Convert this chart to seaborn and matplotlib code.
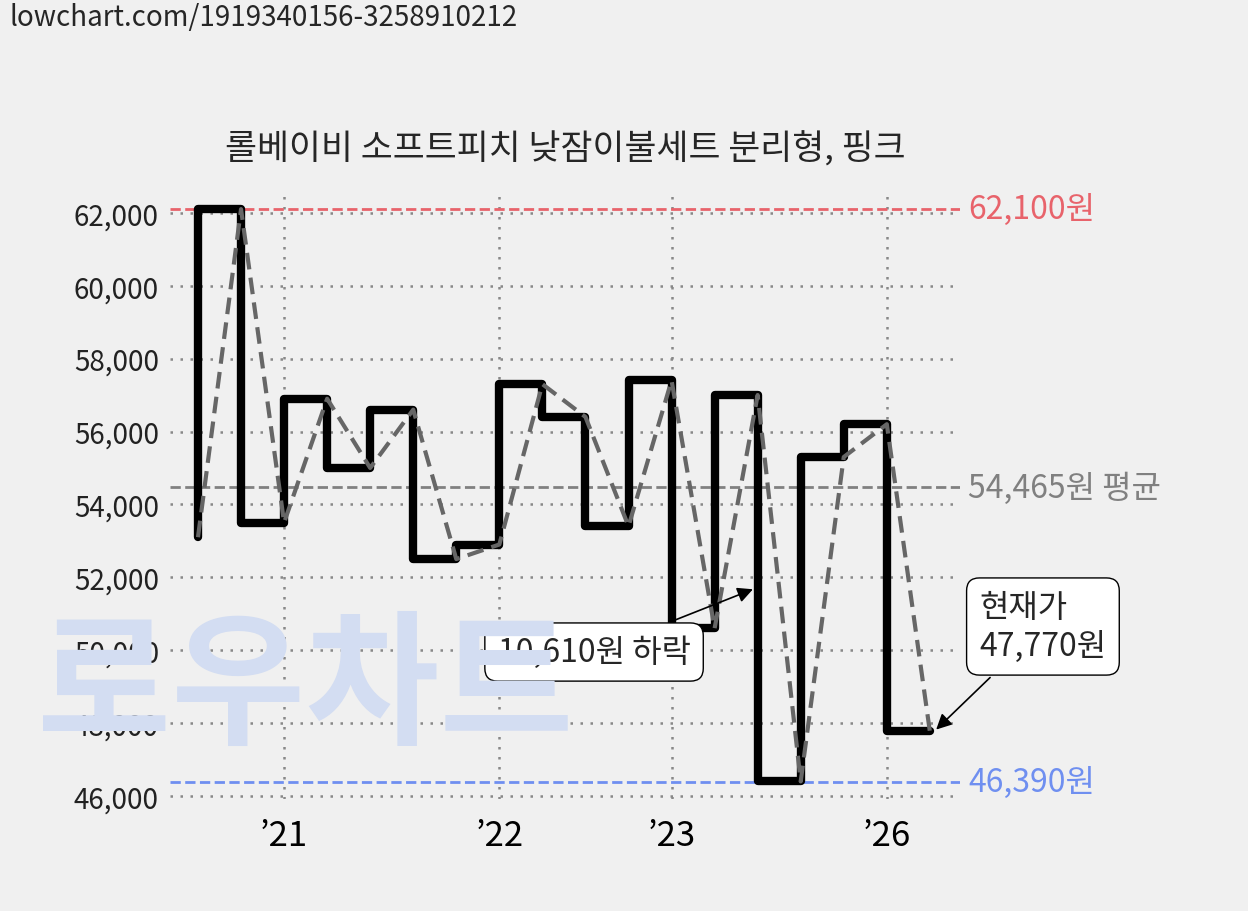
import matplotlib
matplotlib.use("Agg")
import matplotlib.pyplot as plt
import seaborn as sns
import pandas as pd

# 가격 데이터 (구간 인덱스별)
prices = [53100, 62100, 53500, 56900, 55000, 56600, 52500, 52900, 57300,
          56400, 53400, 57400, 50600, 57000, 46400, 55300, 56200, 47770]
tick_pos = [2, 7, 11, 16]
tick_labels = ["’21", "’22", "’23", "’26"]
y_ticks = [46000, 48000, 50000, 52000, 54000, 56000, 58000, 60000, 62000]
max_price, avg_price, min_price = 62100, 54465, 46390

sns.set_theme(style="white")
plt.rcParams['font.family'] = ['Noto Sans CJK KR', 'DejaVu Sans']

df = pd.DataFrame({"idx": range(len(prices)), "price": prices})

W, H = 1248, 912
fig = plt.figure(figsize=(W / 100, H / 100), dpi=100, facecolor="#f0f0f0")

# 워터마크
fig.text(305 / W, 1 - 690 / H, "로우차트", fontsize=105, color="#d3ddf2",
         ha="center", va="center", fontweight="black", zorder=0)

ax = fig.add_axes([170 / W, 1 - 800 / H, 790 / W, 610 / H])
ax.patch.set_alpha(0)

for y in y_ticks:
    ax.axhline(y, color="#888888", ls=(0, (1, 3)), lw=1.8, zorder=1)
for x in tick_pos:
    ax.axvline(x, color="#888888", ls=(0, (1, 3)), lw=1.8, zorder=1)

ax.axhline(max_price, color="#e8636b", ls="--", lw=2, zorder=2)
ax.axhline(avg_price, color="#808080", ls="--", lw=2, zorder=2)
ax.axhline(min_price, color="#6f8ff0", ls="--", lw=2, zorder=2)

sns.lineplot(data=df, x="idx", y="price", ax=ax, color="black", lw=6,
             drawstyle="steps-pre", zorder=3)
sns.lineplot(data=df, x="idx", y="price", ax=ax, color="#666666", lw=3,
             ls=(0, (4, 2)), zorder=4)

ax.set_xlim(-0.65, 17.7)
ax.set_ylim(45918, 62653)
ax.set_xticks(tick_pos)
ax.set_xticklabels(tick_labels, fontsize=25, color="black")
ax.set_yticks(y_ticks)
ax.set_yticklabels([f"{v:,}" for v in y_ticks], fontsize=20, color="#222222")
ax.tick_params(length=0, pad=8)
ax.tick_params(axis="x", pad=14)
ax.set_xlabel("")
ax.set_ylabel("")
for s in ax.spines.values():
    s.set_visible(False)

ax.text(1.01, max_price, f"{max_price:,}원", transform=ax.get_yaxis_transform(),
        color="#e8636b", fontsize=23, va="center")
ax.text(1.01, avg_price, f"{avg_price:,}원 평균", transform=ax.get_yaxis_transform(),
        color="#808080", fontsize=23, va="center")
ax.text(1.01, min_price, f"{min_price:,}원", transform=ax.get_yaxis_transform(),
        color="#6f8ff0", fontsize=23, va="center")

box = dict(boxstyle="round,pad=0.4", fc="white", ec="black", lw=1)
ax.annotate("10,610원 하락", xy=(12.95, 51700), xytext=(9.2, 49950),
            fontsize=23, ha="center", va="center", bbox=box, zorder=6,
            arrowprops=dict(arrowstyle="-|>", color="black", lw=1.2))
ax.annotate("현재가\n47,770원", xy=(17.1, 47770), xytext=(18.15, 50650),
            fontsize=23, ha="left", va="center", bbox=box, linespacing=1.3,
            arrowprops=dict(arrowstyle="-|>", color="black", lw=1.2),
            annotation_clip=False, zorder=6)

fig.text(565 / W, 1 - 150 / H, "롤베이비 소프트피치 낮잠이불세트 분리형, 핑크",
         fontsize=25, ha="center", va="center")
fig.text(10 / W, 1 - 18 / H, "lowchart.com/1919340156-3258910212",
         fontsize=20, ha="left", va="center")

fig.savefig("out.png", dpi=100, facecolor=fig.get_facecolor())
